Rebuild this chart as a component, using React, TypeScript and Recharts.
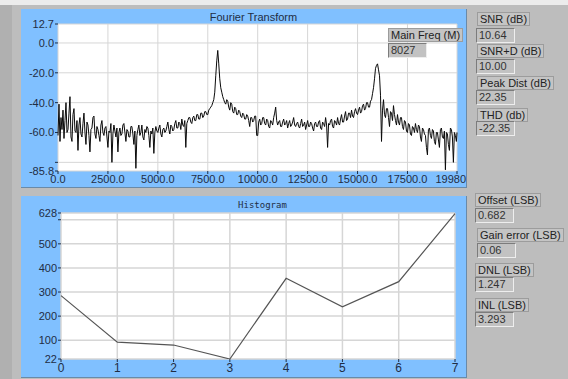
import React from 'react';
import { LineChart, Line, XAxis, YAxis, CartesianGrid } from 'recharts';

// spectrum, sampled every 50 Hz (last point sits at 19980 Hz)
const FREQ_STEP = 50;
const FREQ_MAX = 19980;
const SPECTRUM_DB = [
  -62, -41, -66, -50, -58, -45, -64, -52, -40, -60, -58, -47, -36, -63, -66, -48, -44, -59, -60, -52,
  -72, -55, -50, -61, -63, -54, -47, -60, -68, -53, -55, -62, -73, -58, -57, -50, -49, -61, -64, -56,
  -58, -62, -66, -55, -52, -60, -62, -57, -56, -63, -70, -59, -60, -54, -80, -61, -55, -59, -63, -57,
  -73, -60, -57, -62, -61, -55, -54, -60, -66, -58, -59, -63, -63, -56, -56, -61, -68, -59, -84, -62,
  -58, -55, -62, -60, -55, -63, -65, -58, -60, -56, -57, -62, -70, -59, -61, -57, -74, -60, -56, -59,
  -60, -57, -55, -61, -63, -58, -57, -60, -59, -56, -53, -58, -61, -55, -56, -59, -58, -54, -52, -57,
  -57, -53, -54, -58, -51, -55, -56, -52, -70, -54, -52, -50, -50, -53, -54, -50, -49, -52, -52, -48,
  -48, -51, -51, -47, -47, -50, -49, -46, -46, -48, -48, -45, -44, -43, -42, -40, -38, -33, -22, -12,
  -5, -14, -24, -30, -33, -36, -38, -40, -41, -38, -39, -43, -45, -40, -41, -46, -47, -43, -44, -48,
  -48, -45, -46, -49, -50, -47, -48, -51, -51, -48, -49, -52, -56, -50, -50, -53, -52, -49, -49, -62,
  -62, -53, -51, -55, -54, -50, -50, -54, -55, -51, -52, -56, -57, -52, -53, -55, -50, -47, -43, -52,
  -55, -53, -52, -56, -56, -53, -51, -55, -54, -52, -57, -54, -52, -56, -55, -53, -50, -55, -56, -54,
  -53, -56, -57, -54, -51, -56, -55, -53, -58, -55, -52, -56, -56, -53, -54, -57, -59, -54, -53, -56,
  -56, -53, -52, -57, -58, -53, -54, -56, -50, -55, -70, -54, -55, -52, -51, -56, -57, -52, -53, -55,
  -50, -54, -55, -51, -48, -53, -53, -49, -46, -52, -51, -47, -47, -50, -45, -49, -50, -46, -44, -47,
  -48, -45, -43, -47, -46, -42, -41, -45, -44, -40, -40, -43, -43, -39, -38, -34, -30, -24, -17, -15,
  -14, -18, -22, -35, -66, -45, -38, -48, -50, -44, -44, -50, -56, -46, -47, -52, -42, -48, -52, -55,
  -48, -53, -55, -50, -50, -56, -58, -52, -53, -59, -60, -54, -55, -61, -62, -56, -57, -60, -54, -58,
  -60, -55, -56, -63, -66, -57, -58, -61, -62, -70, -75, -58, -57, -62, -64, -58, -59, -66, -68, -60,
  -60, -65, -70, -58, -57, -63, -64, -59, -85, -60, -61, -68, -72, -57, -58, -63, -80, -60, -62, -66,
  -60,
];
const FREQ_TICKS = [0, 2500, 5000, 7500, 10000, 12500, 15000, 17500, 19980];
const DB_TICKS = [12.7, 0, -20, -40, -60, -80, -85.8];
const DB_UNLABELED = [-80];

const HIST_BINS = [0, 1, 2, 3, 4, 5, 6, 7];
const HIST_COUNTS = [285, 92, 80, 22, 357, 239, 343, 625];
const HIST_TICKS = [628, 600, 500, 400, 300, 200, 100, 22];
const HIST_UNLABELED = [600];

const SPECTRUM_STATS = [
  { label: 'SNR (dB)', value: '10.64' },
  { label: 'SNR+D (dB)', value: '10.00' },
  { label: 'Peak Dist (dB)', value: '22.35' },
  { label: 'THD (db)', value: '-22.35' },
];
const HIST_STATS = [
  { label: 'Offset (LSB)', value: '0.682' },
  { label: 'Gain error (LSB)', value: '0.06' },
  { label: 'DNL (LSB)', value: '1.247' },
  { label: 'INL (LSB)', value: '3.293' },
];

const spectrum = SPECTRUM_DB.map((db, i) => ({ f: Math.min(i * FREQ_STEP, FREQ_MAX), db }));
const histogram = HIST_BINS.map((bin, i) => ({ bin, count: HIST_COUNTS[i] }));

const FONT = '"Liberation Sans", Arial, sans-serif';
const BLUE = '#80c0ff';
const INK = '#1f2d44';
const GRID = '#d6d6d6';

// last frequency label is pushed left so it ends at the panel edge, like the original
const FreqTick = (props: any) => {
  const { x, y, payload } = props;
  const v = payload.value as number;
  const last = v === FREQ_MAX;
  return (
    <text x={last ? x + 9 : x} y={y} dy="0.75em" textAnchor={last ? 'end' : 'middle'} fill={INK} fontSize={11}>
      {last ? String(v) : v.toFixed(1)}
    </text>
  );
};

const Label: React.FC<{ text: string; x: number; y: number }> = ({ text, x, y }) => (
  <div style={{
    position: 'absolute', left: x, top: y, height: 12, lineHeight: '12px', padding: '0 2px',
    background: '#c4c4c4', border: '1px solid #9c9c9c', fontSize: 11, color: '#222', whiteSpace: 'nowrap',
  }}>{text}</div>
);

const Value: React.FC<{ text: string; x: number; y: number; w?: number }> = ({ text, x, y, w = 37 }) => (
  <div style={{
    position: 'absolute', left: x, top: y, width: w, height: 13, lineHeight: '13px', padding: '0 2px',
    boxSizing: 'content-box', background: '#c2c2c2', borderStyle: 'solid', borderWidth: 1,
    borderColor: '#7c7c7c #eeeeee #eeeeee #7c7c7c', fontSize: 11, color: '#333', whiteSpace: 'nowrap',
  }}>{text}</div>
);

const App: React.FC = () => {
  return (
    <div style={{ position: 'absolute', left: 0, top: 0, width: 568, height: 379, background: '#bdbdbd', fontFamily: FONT, overflow: 'hidden' }}>
      <div style={{ position: 'absolute', left: 0, top: 0, width: 568, height: 5, background: '#ececec' }} />
      <div style={{ position: 'absolute', left: 0, top: 5, width: 12, height: 374, background: '#b0b0b0' }} />

      {/* Fourier transform panel */}
      <div style={{ position: 'absolute', left: 21, top: 9, width: 445, height: 178, background: BLUE, borderRight: '1px solid #6a8aa8', borderBottom: '1px solid #6a8aa8' }}>
        <div style={{ position: 'absolute', left: 0, top: 2, width: 466 - 21 + 20, textAlign: 'center', fontSize: 11, color: INK }}>Fourier Transform</div>
        <LineChart width={445} height={178} data={spectrum} margin={{ top: 15, right: 9, bottom: 0, left: 0 }}>
          <CartesianGrid fill="#ffffff" stroke={GRID} />
          <XAxis dataKey="f" type="number" domain={[0, FREQ_MAX]} ticks={FREQ_TICKS} interval={0}
            height={16} tickSize={3} tickMargin={1} axisLine={false} stroke={INK}
            tick={<FreqTick />} />
          <YAxis type="number" domain={[-85.8, 12.7]} ticks={DB_TICKS} interval={0} allowDataOverflow
            width={37} tickSize={3} tickMargin={1} axisLine={false} stroke={INK}
            tick={{ fill: INK, fontSize: 11 }}
            tickFormatter={(v: number) => (DB_UNLABELED.includes(v) ? '' : v.toFixed(1))} />
          <Line type="linear" dataKey="db" stroke="#0a0a0a" strokeWidth={1} dot={false} isAnimationActive={false} />
        </LineChart>
      </div>
      <Label text="Main Freq (M)" x={388} y={28} />
      <Value text="8027" x={388} y={43} w={33} />

      {/* Histogram panel */}
      <div style={{ position: 'absolute', left: 21, top: 196, width: 445, height: 181, background: BLUE, borderRight: '1px solid #6a8aa8', borderBottom: '1px solid #6a8aa8' }}>
        <div style={{ position: 'absolute', left: 0, top: 4, width: 483, textAlign: 'center', fontSize: 9, color: INK, fontFamily: '"DejaVu Sans Mono", monospace' }}>Histogram</div>
        <LineChart width={445} height={181} data={histogram} margin={{ top: 17, right: 11, bottom: 0, left: 0 }}>
          <CartesianGrid fill="#ffffff" stroke={GRID} strokeWidth={1.5} />
          <XAxis dataKey="bin" type="number" domain={[0, 7]} ticks={HIST_BINS} interval={0}
            height={18} tickSize={3} tickMargin={1} axisLine={false} stroke={INK}
            tick={{ fill: INK, fontSize: 12 }} />
          <YAxis type="number" domain={[22, 628]} ticks={HIST_TICKS} interval={0} allowDataOverflow
            width={40} tickSize={3} tickMargin={1} axisLine={false} stroke={INK}
            tick={{ fill: INK, fontSize: 11 }}
            tickFormatter={(v: number) => (HIST_UNLABELED.includes(v) ? '' : String(v))} />
          <Line type="linear" dataKey="count" stroke="#555" strokeWidth={1.2} dot={false} isAnimationActive={false} />
        </LineChart>
      </div>

      {/* indicators */}
      {SPECTRUM_STATS.map((s, i) => (
        <React.Fragment key={s.label}>
          <Label text={s.label} x={477} y={12 + i * 32} />
          <Value text={s.value} x={476} y={28 + i * 31} w={33} />
        </React.Fragment>
      ))}
      {HIST_STATS.map((s, i) => (
        <React.Fragment key={s.label}>
          <Label text={s.label} x={i === 1 ? 477 : 475} y={193 + i * 35} />
          <Value text={s.value} x={i === 1 ? 477 : 475} y={208 + i * 34.5} w={33} />
        </React.Fragment>
      ))}
    </div>
  );
};

export default App;
